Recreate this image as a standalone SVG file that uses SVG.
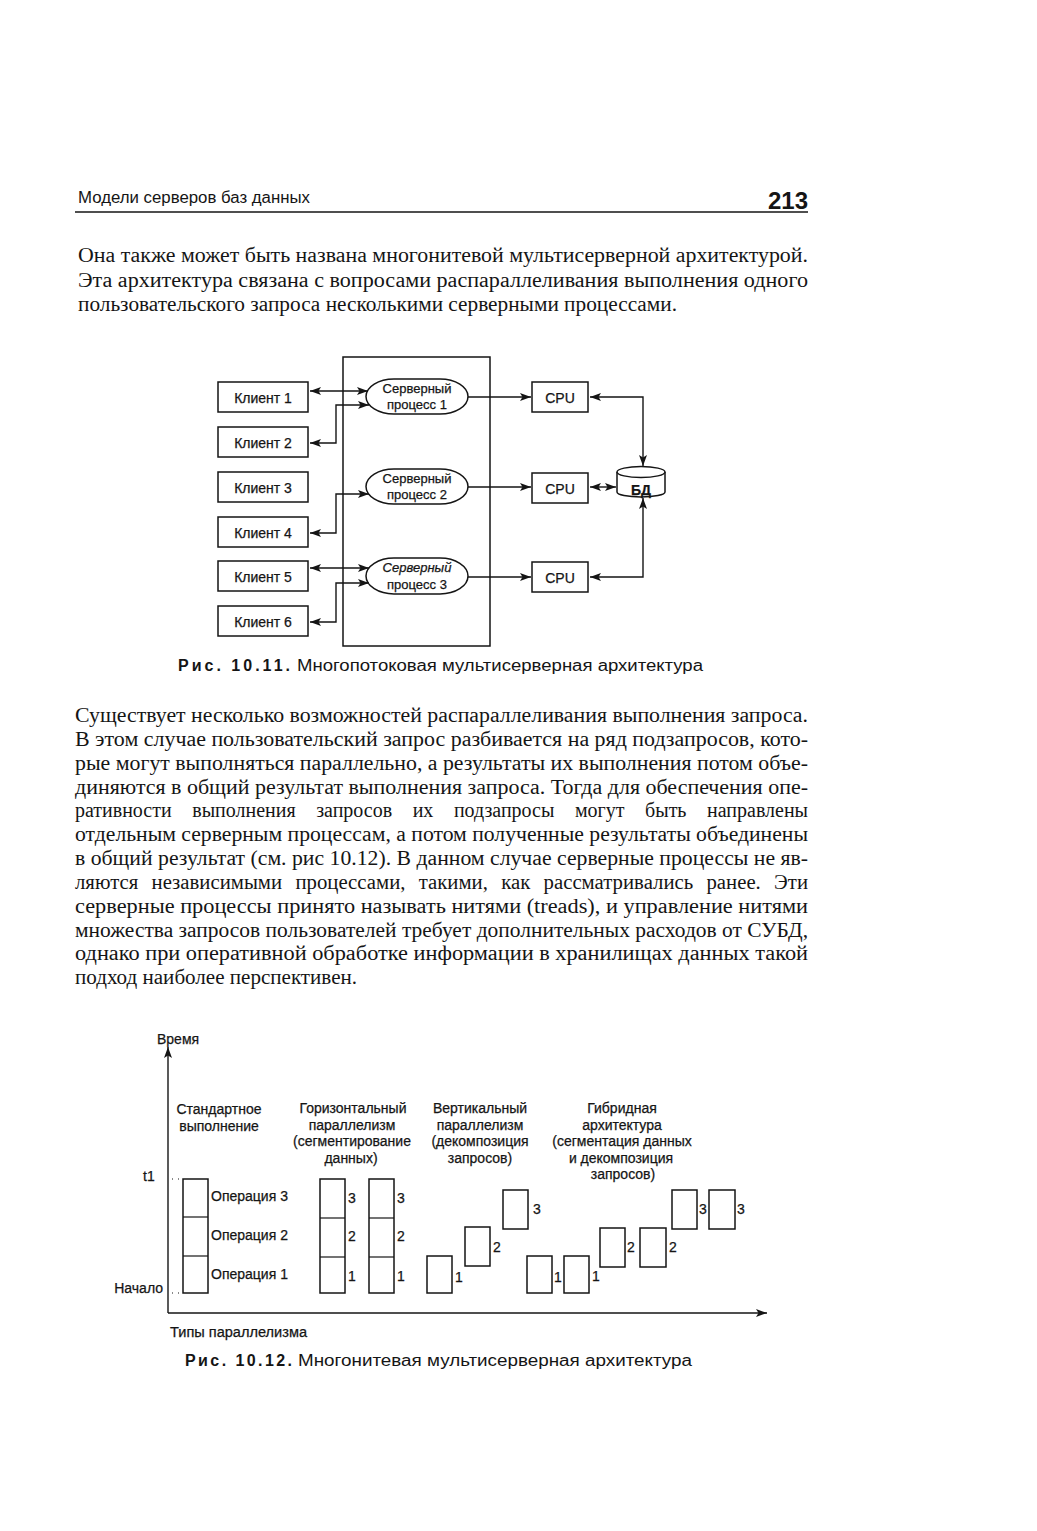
<svg xmlns="http://www.w3.org/2000/svg" width="1037" height="1531" viewBox="0 0 1037 1531">
<defs>
<style>
.body{font-family:"Liberation Serif","Times New Roman",serif;font-size:20.5px;fill:#151515}
.sans{font-family:"Liberation Sans",Arial,sans-serif;fill:#151515}
.lbl{font-family:"Liberation Sans",Arial,sans-serif;font-size:14px;fill:#151515;stroke:#151515;stroke-width:0.25}
.lblc{font-family:"Liberation Sans",Arial,sans-serif;font-size:14px;fill:#151515;text-anchor:middle;stroke:#151515;stroke-width:0.25}
.plbl{font-family:"Liberation Sans",Arial,sans-serif;font-size:13px;fill:#151515;text-anchor:middle;stroke:#151515;stroke-width:0.25}
.box{fill:#fff;stroke:#151515;stroke-width:1.5}
.con{fill:none;stroke:#151515;stroke-width:1.4}
.div{stroke:#151515;stroke-width:1.2}
.dots{stroke:#151515;stroke-width:1.2;stroke-dasharray:1 5}
</style>
<marker id="ah" viewBox="0 0 11 8" markerWidth="11" markerHeight="8" refX="11" refY="4" orient="auto-start-reverse" markerUnits="userSpaceOnUse">
<path d="M0,0 L11,4 L0,8 L2.5,4 z" fill="#151515"/>
</marker>
</defs>
<rect width="1037" height="1531" fill="#fff"/>

<!-- header -->
<g id="header">
<text class="sans" x="78" y="203" font-size="16" textLength="232" lengthAdjust="spacingAndGlyphs">Модели серверов баз данных</text>
<text class="sans" x="808" y="209" font-size="24" font-weight="bold" text-anchor="end">213</text>
<line x1="75" y1="212" x2="808" y2="212" stroke="#151515" stroke-width="1.6"/>
</g>

<!-- paragraph 1 -->
<g id="para1">
<text class="body" x="78" y="262" textLength="730" lengthAdjust="spacingAndGlyphs">Она также может быть названа многонитевой мультисерверной архитектурой.</text>
<text class="body" x="78" y="286.5" textLength="730" lengthAdjust="spacingAndGlyphs">Эта архитектура связана с вопросами распараллеливания выполнения одного</text>
<text class="body" x="78" y="311" textLength="599" lengthAdjust="spacingAndGlyphs">пользовательского запроса несколькими серверными процессами.</text>
</g>

<!-- Figure 10.11 -->
<g id="fig1011">
<g id="server-frame"><rect x="343" y="357" width="147" height="289" fill="none" stroke="#151515" stroke-width="1.5"/></g>

<g id="client1"><rect class="box" x="218" y="382" width="90" height="30"/><text class="lblc" x="263" y="403" font-size="15.5">Клиент 1</text></g>
<g id="client2"><rect class="box" x="218" y="427" width="90" height="30"/><text class="lblc" x="263" y="448" font-size="15.5">Клиент 2</text></g>
<g id="client3"><rect class="box" x="218" y="472" width="90" height="30"/><text class="lblc" x="263" y="493" font-size="15.5">Клиент 3</text></g>
<g id="client4"><rect class="box" x="218" y="517" width="90" height="30"/><text class="lblc" x="263" y="538" font-size="15.5">Клиент 4</text></g>
<g id="client5"><rect class="box" x="218" y="561" width="90" height="30"/><text class="lblc" x="263" y="582" font-size="15.5">Клиент 5</text></g>
<g id="client6"><rect class="box" x="218" y="606" width="90" height="30"/><text class="lblc" x="263" y="627" font-size="15.5">Клиент 6</text></g>

<g id="proc1"><rect class="box" x="366" y="379" width="102" height="35" rx="28" ry="17.5"/><text class="plbl" x="417" y="393">Серверный</text><text class="plbl" x="417" y="409">процесс 1</text></g>
<g id="proc2"><rect class="box" x="366" y="469" width="102" height="35" rx="28" ry="17.5"/><text class="plbl" x="417" y="483">Серверный</text><text class="plbl" x="417" y="499">процесс 2</text></g>
<g id="proc3"><rect class="box" x="366" y="558" width="102" height="36" rx="28" ry="18"/><text class="plbl" x="417" y="572" font-style="italic">Серверный</text><text class="plbl" x="417" y="589">процесс 3</text></g>

<g id="cpu1"><rect class="box" x="532" y="382" width="56" height="30"/><text class="lblc" x="560" y="402.5" font-size="15">CPU</text></g>
<g id="cpu2"><rect class="box" x="532" y="473" width="56" height="30"/><text class="lblc" x="560" y="493.5" font-size="15">CPU</text></g>
<g id="cpu3"><rect class="box" x="532" y="562" width="56" height="30"/><text class="lblc" x="560" y="582.5" font-size="15">CPU</text></g>

<g id="db">
<path d="M617 472 V492 A24 5 0 0 0 665 492 V472" class="box"/>
<ellipse cx="641" cy="472" rx="24" ry="5.5" class="box"/>
<text class="lblc" x="641" y="495" font-size="15" font-weight="bold">БД</text>
</g>

<g id="connectors1011">
<path class="con" d="M310 391 H368" marker-start="url(#ah)" marker-end="url(#ah)"/>
<path class="con" d="M310 443 H336 V405 H369" marker-start="url(#ah)" marker-end="url(#ah)"/>
<path class="con" d="M310 533 H336 V494 H369" marker-start="url(#ah)" marker-end="url(#ah)"/>
<path class="con" d="M310 568 H369" marker-start="url(#ah)" marker-end="url(#ah)"/>
<path class="con" d="M310 622 H336 V583 H369" marker-start="url(#ah)" marker-end="url(#ah)"/>
<path class="con" d="M468 397 H531" marker-end="url(#ah)"/>
<path class="con" d="M468 487 H531" marker-end="url(#ah)"/>
<path class="con" d="M468 577 H531" marker-end="url(#ah)"/>
<path class="con" d="M590 397 H643 V466" marker-start="url(#ah)" marker-end="url(#ah)"/>
<path class="con" d="M590 487 H616" marker-start="url(#ah)" marker-end="url(#ah)"/>
<path class="con" d="M590 577 H643 V498" marker-start="url(#ah)" marker-end="url(#ah)"/>
</g>
</g>

<g id="caption1011">
<text class="sans" x="178" y="671" font-size="16" font-weight="bold" textLength="112" lengthAdjust="spacing">Рис. 10.11.</text>
<text class="sans" x="297" y="671" font-size="16" textLength="406" lengthAdjust="spacingAndGlyphs">Многопотоковая мультисерверная архитектура</text>
</g>

<!-- paragraph 2 -->
<g id="para2">
<text class="body" x="75" y="722" textLength="733" lengthAdjust="spacingAndGlyphs">Существует несколько возможностей распараллеливания выполнения запроса.</text>
<text class="body" x="75" y="746" textLength="733" lengthAdjust="spacingAndGlyphs">В этом случае пользовательский запрос разбивается на ряд подзапросов, кото-</text>
<text class="body" x="75" y="770" textLength="733" lengthAdjust="spacingAndGlyphs">рые могут выполняться параллельно, а результаты их выполнения потом объе-</text>
<text class="body" x="75" y="793.5" textLength="733" lengthAdjust="spacingAndGlyphs">диняются в общий результат выполнения запроса. Тогда для обеспечения опе-</text>
<text class="body" x="75" y="817" textLength="733" lengthAdjust="spacingAndGlyphs" word-spacing="16">ративности выполнения запросов их подзапросы могут быть направлены</text>
<text class="body" x="75" y="841" textLength="733" lengthAdjust="spacingAndGlyphs">отдельным серверным процессам, а потом полученные результаты объединены</text>
<text class="body" x="75" y="865" textLength="733" lengthAdjust="spacingAndGlyphs">в общий результат (см. рис 10.12). В данном случае серверные процессы не яв-</text>
<text class="body" x="75" y="889" textLength="733" lengthAdjust="spacingAndGlyphs" word-spacing="8">ляются независимыми процессами, такими, как рассматривались ранее. Эти</text>
<text class="body" x="75" y="913" textLength="733" lengthAdjust="spacingAndGlyphs">серверные процессы принято называть нитями (treads), и управление нитями</text>
<text class="body" x="75" y="936.5" textLength="733" lengthAdjust="spacingAndGlyphs">множества запросов пользователей требует дополнительных расходов от СУБД,</text>
<text class="body" x="75" y="960" textLength="733" lengthAdjust="spacingAndGlyphs">однако при оперативной обработке информации в хранилищах данных такой</text>
<text class="body" x="75" y="984" textLength="282" lengthAdjust="spacingAndGlyphs">подход наиболее перспективен.</text>
</g>

<!-- Figure 10.12 -->
<g id="fig1012">
<g id="axes">
<path class="con" d="M168 1313 V1047" marker-end="url(#ah)"/>
<path class="con" d="M168 1313 H767" marker-end="url(#ah)"/>
<text class="lbl" x="157" y="1044">Время</text>
<text class="lbl" x="143" y="1181">t1</text>
<text class="lbl" x="163" y="1293" text-anchor="end">Начало</text>
<text class="lbl" x="170" y="1337" textLength="137" lengthAdjust="spacingAndGlyphs">Типы параллелизма</text>
<line class="dots" x1="172" y1="1179" x2="183" y2="1179"/>
<line class="dots" x1="172" y1="1293" x2="183" y2="1293"/>
</g>

<g id="col-standard">
<text class="lblc" x="219" y="1114">Стандартное</text>
<text class="lblc" x="219" y="1131">выполнение</text>
<rect class="box" x="183" y="1179" width="25" height="114"/>
<line class="div" x1="183" y1="1217" x2="208" y2="1217"/>
<line class="div" x1="183" y1="1256" x2="208" y2="1256"/>
<text class="lbl" x="211" y="1201">Операция 3</text>
<text class="lbl" x="211" y="1240">Операция 2</text>
<text class="lbl" x="211" y="1279">Операция 1</text>
</g>

<g id="col-horizontal">
<text class="lblc" x="353" y="1113">Горизонтальный</text>
<text class="lblc" x="352" y="1129.5">параллелизм</text>
<text class="lblc" x="352" y="1146">(сегментирование</text>
<text class="lblc" x="351" y="1162.5">данных)</text>
<rect class="box" x="320" y="1179" width="25" height="114"/>
<line class="div" x1="320" y1="1218" x2="345" y2="1218"/>
<line class="div" x1="320" y1="1257" x2="345" y2="1257"/>
<text class="lbl" x="348" y="1203">3</text>
<text class="lbl" x="348" y="1241">2</text>
<text class="lbl" x="348" y="1281">1</text>
<rect class="box" x="369" y="1179" width="25" height="114"/>
<line class="div" x1="369" y1="1218" x2="394" y2="1218"/>
<line class="div" x1="369" y1="1257" x2="394" y2="1257"/>
<text class="lbl" x="397" y="1203">3</text>
<text class="lbl" x="397" y="1241">2</text>
<text class="lbl" x="397" y="1281">1</text>
</g>

<g id="col-vertical">
<text class="lblc" x="480" y="1113">Вертикальный</text>
<text class="lblc" x="480" y="1129.5">параллелизм</text>
<text class="lblc" x="480" y="1146">(декомпозиция</text>
<text class="lblc" x="480" y="1162.5">запросов)</text>
<rect class="box" x="427" y="1256" width="25" height="37"/>
<text class="lbl" x="455" y="1282">1</text>
<rect class="box" x="465" y="1227" width="25" height="39"/>
<text class="lbl" x="493" y="1252">2</text>
<rect class="box" x="503" y="1190" width="25" height="39"/>
<text class="lbl" x="533" y="1214">3</text>
</g>

<g id="col-hybrid">
<text class="lblc" x="622" y="1113">Гибридная</text>
<text class="lblc" x="622" y="1129.5">архитектура</text>
<text class="lblc" x="622" y="1146">(сегментация данных</text>
<text class="lblc" x="621" y="1162.5">и декомпозиция</text>
<text class="lblc" x="623" y="1179">запросов)</text>
<rect class="box" x="527" y="1256" width="25" height="37"/>
<text class="lbl" x="554" y="1282">1</text>
<rect class="box" x="564" y="1256" width="25" height="37"/>
<text class="lbl" x="592" y="1281">1</text>
<rect class="box" x="600" y="1228" width="25" height="39"/>
<text class="lbl" x="627" y="1252">2</text>
<rect class="box" x="640" y="1228" width="26" height="39"/>
<text class="lbl" x="669" y="1252">2</text>
<rect class="box" x="672" y="1190" width="25" height="39"/>
<text class="lbl" x="699" y="1214">3</text>
<rect class="box" x="709" y="1190" width="26" height="39"/>
<text class="lbl" x="737" y="1214">3</text>
</g>
</g>

<g id="caption1012">
<text class="sans" x="185" y="1366" font-size="16" font-weight="bold" textLength="107" lengthAdjust="spacing">Рис. 10.12.</text>
<text class="sans" x="298" y="1366" font-size="16" textLength="394" lengthAdjust="spacingAndGlyphs">Многонитевая мультисерверная архитектура</text>
</g>
</svg>
